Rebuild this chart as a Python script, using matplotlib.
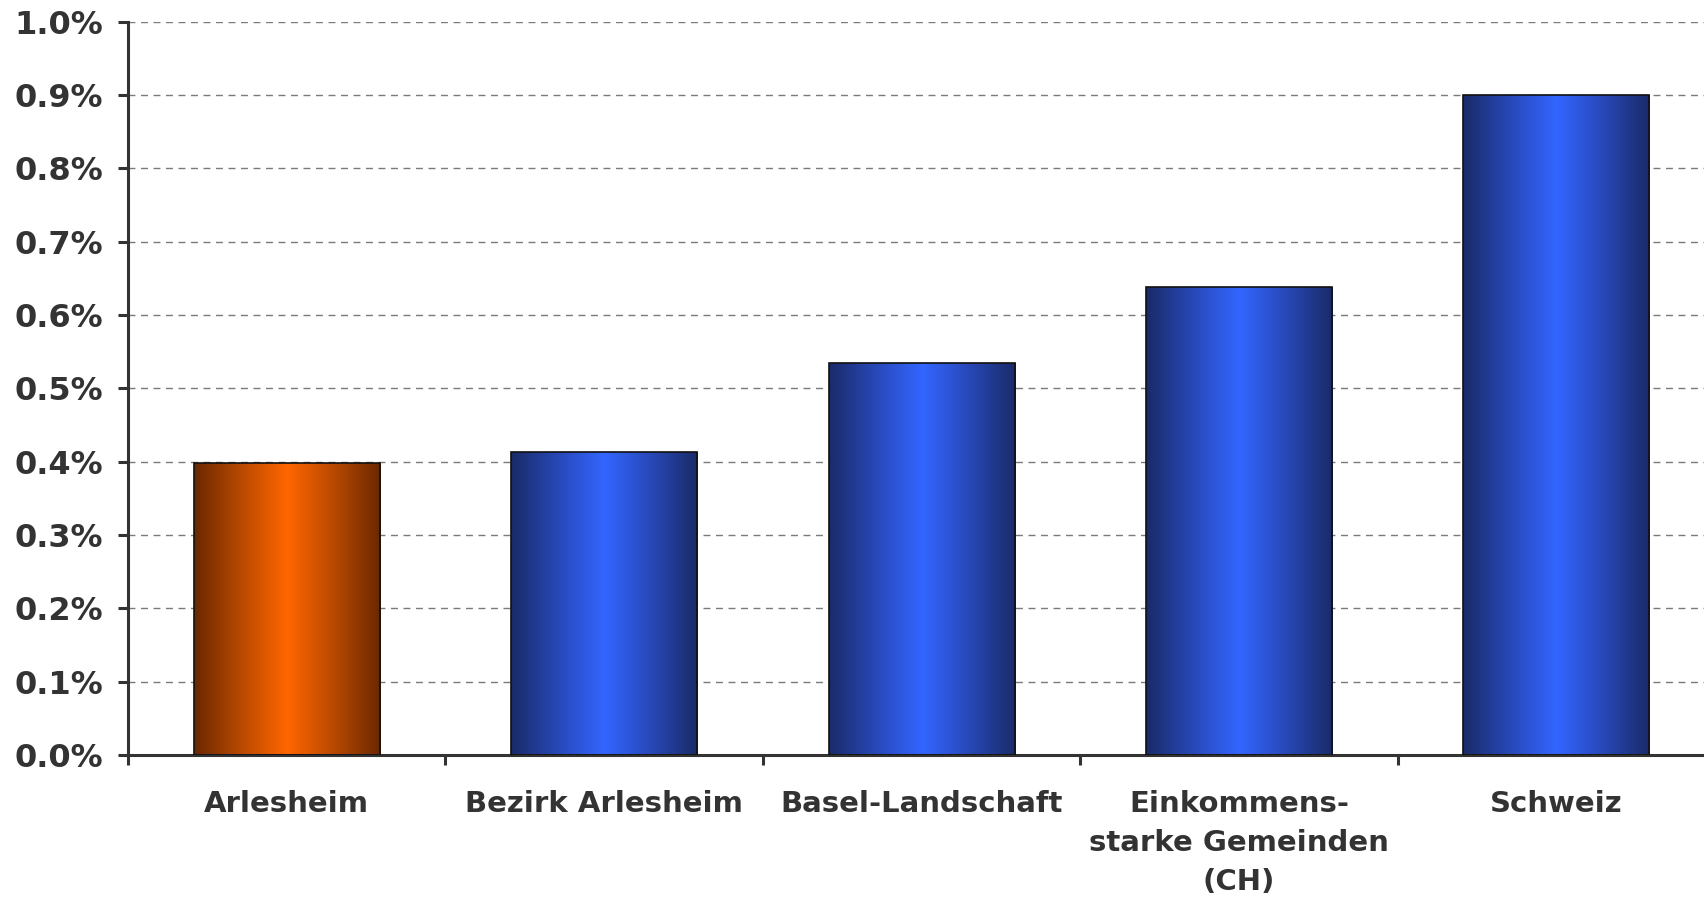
import numpy as np
import matplotlib
matplotlib.use("Agg")
import matplotlib.pyplot as plt
from matplotlib.colors import LinearSegmentedColormap
from matplotlib.ticker import FuncFormatter, FixedLocator

categories = ["Arlesheim", "Bezirk Arlesheim", "Basel-Landschaft",
              "Einkommens-\nstarke Gemeinden\n(CH)", "Schweiz"]
values = [0.398, 0.413, 0.535, 0.638, 0.900]  # in percent
highlight = [True, False, False, False, False]

text_col = "#333333"
plt.rcParams["font.family"] = "DejaVu Sans"
plt.rcParams["font.weight"] = "bold"

orange_cmap = LinearSegmentedColormap.from_list(
    "org", ["#6A2800", "#B84900", "#FF6600", "#B84900", "#6A2800"])
blue_cmap = LinearSegmentedColormap.from_list(
    "blu", ["#1A2B68", "#2848B8", "#3366FF", "#2848B8", "#1A2B68"])

fig = plt.figure(figsize=(17.04, 8.99), dpi=100)
ax = fig.add_axes([0.0751, 0.160, 0.9249, 0.816])

x = np.arange(len(categories))
bars = ax.bar(x, values, width=0.586, facecolor="none", edgecolor="#111111",
              linewidth=1.2, zorder=3)

grad = np.linspace(0, 1, 256).reshape(1, -1)
for b, hl in zip(bars, highlight):
    x0, w, h = b.get_x(), b.get_width(), b.get_height()
    im = ax.imshow(grad, cmap=orange_cmap if hl else blue_cmap, aspect="auto",
                   extent=[x0, x0 + w, 0, h], zorder=2, interpolation="bicubic")
    im.set_clip_path(b)

ax.set_xlim(-0.5, 4.465)
ax.set_ylim(0, 1.0)

ax.set_yticks(np.arange(0, 1.01, 0.1))
ax.yaxis.set_major_formatter(FuncFormatter(lambda v, p: f"{v:.1f}%"))
ax.yaxis.grid(True, linestyle=(0, (5, 4)), color="#7a7a7a", linewidth=1.0, zorder=1)

ax.set_xticks(x)
ax.set_xticklabels(categories, linespacing=1.5)
ax.xaxis.set_minor_locator(FixedLocator(np.arange(-0.5, 4.0, 1.0)))

ax.tick_params(axis="y", length=7, width=2.2, color=text_col, pad=11,
               labelsize=23, labelcolor=text_col)
ax.tick_params(axis="x", which="major", length=0, pad=25,
               labelsize=21, labelcolor=text_col)
ax.tick_params(axis="x", which="minor", length=7, width=2.2, color=text_col)

for s in ["top", "right"]:
    ax.spines[s].set_visible(False)
for s in ["left", "bottom"]:
    ax.spines[s].set_linewidth(2.2)
    ax.spines[s].set_color(text_col)

ax.set_axisbelow(True)
fig.savefig("out.png", dpi=100)
